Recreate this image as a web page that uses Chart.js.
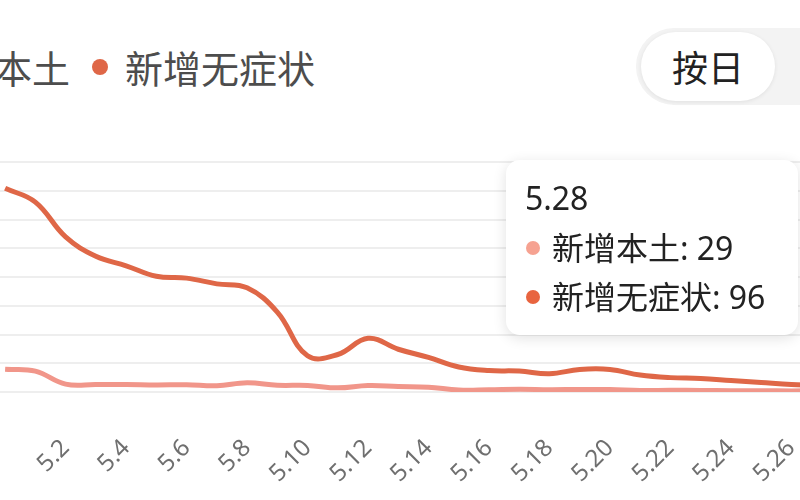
<!DOCTYPE html>
<html>
<head>
<meta charset="utf-8">
<script src="https://cdn.jsdelivr.net/npm/chart.js@4.4.1/dist/chart.umd.min.js"></script>
<style>
  html, body { margin: 0; padding: 0; width: 800px; height: 500px; overflow: hidden; background: #fff; }
  body { position: relative; font-family: "Noto Sans", "Noto Sans CJK SC", sans-serif; }
  #legend { position: absolute; left: -115px; top: 44px; display: flex; align-items: center; white-space: nowrap;
            font-size: 38px; line-height: 46px; color: #4d4d4d; font-family: "Noto Sans CJK SC", sans-serif; }
  #legend .item { display: flex; align-items: center; margin-right: 22px; }
  #legend .dot { width: 16px; height: 16px; border-radius: 50%; margin-right: 17px; }
  #switch { position: absolute; left: 636px; top: 28px; width: 220px; height: 77px; border-radius: 38px; background: #f3f3f3; }
  #switch .on { position: absolute; left: 5px; top: 4px; width: 134px; height: 69px; border-radius: 35px; background: #fff;
                box-shadow: 0 1px 4px rgba(0,0,0,0.08); text-align: center; line-height: 69px; font-size: 36px; color: #222;
                font-family: "Noto Sans CJK SC", sans-serif; }
  #wrap { position: absolute; left: -60px; top: 0; width: 967px; height: 500px; }
  #tip { position: absolute; display: none; background: #fff; border-radius: 14px; box-sizing: border-box;
         box-shadow: 0 3px 14px rgba(0,0,0,0.12); padding: 12px 26px 0 19px; height: 175px; min-width: 292px;
         color: #222; font-size: 32px; white-space: nowrap; }
  #tip .t { line-height: 51px; }
  #tip .row { display: flex; align-items: center; line-height: 49px; }
  #tip .dot { width: 14px; height: 14px; border-radius: 50%; margin-right: 12px; margin-left: 1px; }
</style>
</head>
<body>
<div id="legend"></div>
<div id="switch"><div class="on">按日</div></div>
<div id="wrap"><canvas id="chart"></canvas></div>
<div id="tip"></div>

<script>
  const days = ['4.30', '5.1', '5.2', '5.3', '5.4', '5.5', '5.6', '5.7', '5.8', '5.9', '5.10',
                '5.11', '5.12', '5.13', '5.14', '5.15', '5.16', '5.17', '5.18', '5.19', '5.20',
                '5.21', '5.22', '5.23', '5.24', '5.25', '5.26', '5.27', '5.28'];
  const seriesNames = ['新增本土', '新增无症状'];
  const localCases = [788, 727, 274, 260, 261, 245, 253, 215, 322, 234, 228,
                      144, 227, 194, 166, 69, 77, 96, 82, 88, 84,
                      52, 58, 55, 44, 45, 39, 45, 29];
  const asymCases = [7084, 6606, 5395, 4722, 4390, 4024, 3961, 3760, 3625, 2780, 1259,
                     1305, 1869, 1487, 1203, 869, 746, 727, 637, 784, 784,
                     590, 500, 470, 400, 330, 260, 220, 96];
  const yTicks = [0, 1000, 2000, 3000, 4000, 5000, 6000, 7000, 8000];
  const colors = ['#f1968a', '#df6747'];
  const hoverDay = '5.28';

  // legend in html so it can be cut off at the left like the screenshot
  const legend = document.getElementById('legend');
  seriesNames.forEach((name, i) => {
    legend.insertAdjacentHTML('beforeend',
      '<div class="item"><span class="dot" style="background:' + colors[i] + '"></span>' + name + '</div>');
  });

  function renderTip(context) {
    const { chart, tooltip } = context;
    const el = document.getElementById('tip');
    if (tooltip.opacity === 0) { el.style.display = 'none'; return; }
    let html = '<div class="t">' + tooltip.title.join(' ') + '</div>';
    tooltip.body.forEach((b, i) => {
      html += '<div class="row"><span class="dot" style="background:' + tooltip.labelColors[i].backgroundColor + '"></span>' +
              b.lines.join(' ') + '</div>';
    });
    el.innerHTML = html;
    el.style.display = 'block';
    const box = chart.canvas.getBoundingClientRect();
    el.style.left = (box.left + tooltip.caretX - 54 - el.offsetWidth) + 'px';
    el.style.top = (box.top + chart.chartArea.top - 2) + 'px';
  }

  const ctx = document.getElementById('chart').getContext('2d');
  const chart = new Chart(ctx, {
    type: 'line',
    data: {
      labels: days,
      datasets: [
        { label: seriesNames[0], data: localCases, borderColor: colors[0], backgroundColor: '#f6a291',
          borderWidth: 5, tension: 0.4, pointRadius: 0, pointHoverRadius: 0 },
        { label: seriesNames[1], data: asymCases, borderColor: colors[1], backgroundColor: '#e8643f',
          borderWidth: 5, tension: 0.4, pointRadius: 0, pointHoverRadius: 0 }
      ]
    },
    options: {
      responsive: true,
      maintainAspectRatio: false,
      animation: false,
      layout: { padding: { left: 50, right: 40, top: 162, bottom: 0 }, autoPadding: false },
      plugins: {
        legend: { display: false },
        tooltip: { enabled: false, mode: 'index', intersect: false, external: renderTip }
      },
      scales: {
        x: {
          offset: true,
          grid: { display: false },
          border: { display: false },
          ticks: {
            autoSkip: false, minRotation: 45, maxRotation: 45, padding: 34,
            color: '#6f6f6f', font: { size: 24, family: 'Noto Sans' },
            callback: (v, i) => (i > 0 && i % 2 === 0) ? days[i] : ''
          },
          afterFit: (scale) => { scale.height = 108; }
        },
        y: {
          min: yTicks[0], max: yTicks[yTicks.length - 1],
          ticks: { display: false, stepSize: 1000 },
          grid: { color: '#eeeeee', lineWidth: 2, drawTicks: false },
          border: { display: false }
        }
      }
    }
  });

  const hi = days.indexOf(hoverDay);
  chart.tooltip.setActiveElements([{ datasetIndex: 0, index: hi }, { datasetIndex: 1, index: hi }], { x: 0, y: 0 });
  chart.update();
</script>
</body>
</html>
